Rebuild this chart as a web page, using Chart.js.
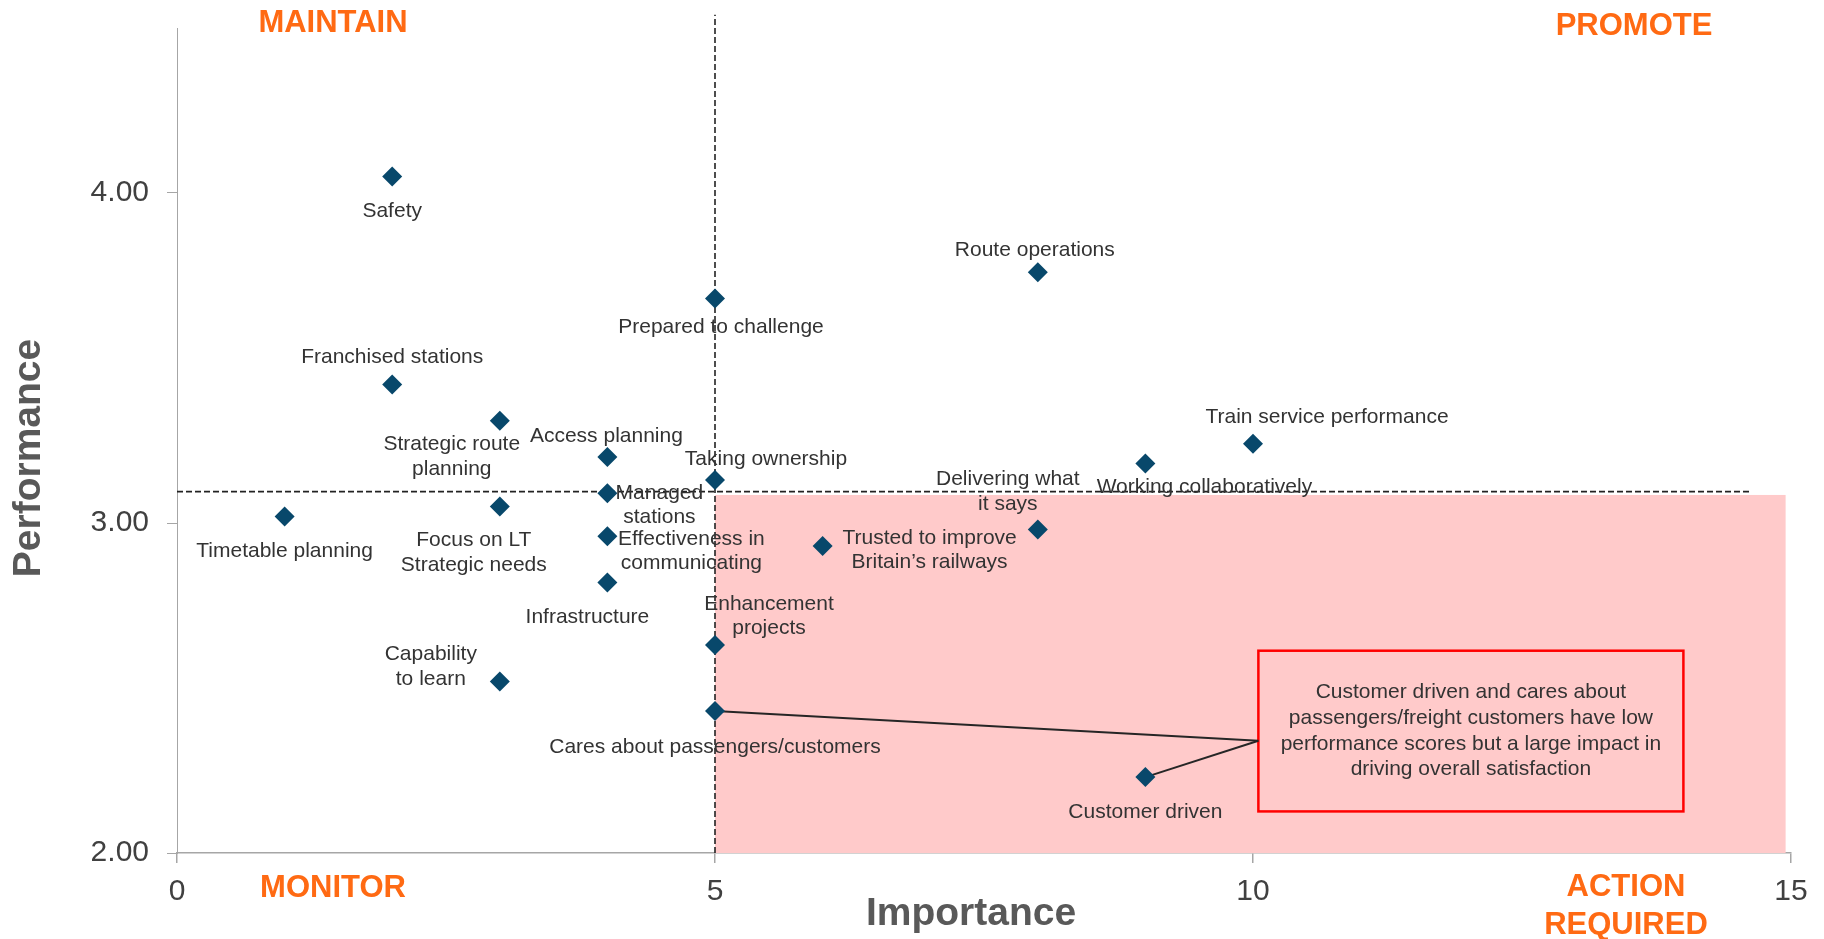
<!DOCTYPE html>
<html>
<head>
<meta charset="utf-8">
<title>Importance vs Performance</title>
<script src="https://cdn.jsdelivr.net/npm/chart.js@4.4.0/dist/chart.umd.min.js"></script>
<style>
  html, body { margin: 0; padding: 0; background: #ffffff; overflow: hidden; }
  #wrap { width: 1824px; height: 939px; position: relative; }
</style>
</head>
<body>
<div id="wrap"><canvas id="matrix" width="1824" height="939"></canvas></div>
<script>
// Attributes
const attributes = [
  "Safety", "Route operations", "Prepared to challenge", "Franchised stations",
  "Strategic route\nplanning", "Access planning", "Taking ownership", "Managed\nstations",
  "Timetable planning", "Focus on LT\nStrategic needs", "Effectiveness in\ncommunicating",
  "Infrastructure", "Enhancement\nprojects", "Capability\nto learn",
  "Cares about passengers/customers", "Customer driven", "Trusted to improve\nBritain\u2019s railways",
  "Delivering what\nit says", "Working collaboratively", "Train service performance"
]
const importance = [2, 8, 5, 2, 3, 4, 5, 4, 1, 3, 4, 4, 5, 3, 5, 9, 6, 8, 9, 10]
const performance = [4.05, 3.76, 3.68, 3.42, 3.31, 3.20, 3.13, 3.09, 3.02, 3.05, 2.96, 2.82, 2.63, 2.52, 2.43, 2.23, 2.93, 2.98, 3.18, 3.24]

// label offsets from the marker (px) for the first text line
const labelDx = [0, -3, 6, 0, -48, -1, 51, 52, 0, -26, 84, -20, 54, -69, 0, 0, 107, -30, 59, 74]
const labelDy = [35, -22, 29, -27, 24, -21, -21, 0, 35, 34, 3, 35, -41, -27, 36, 35, -8, -50, 24, -27]

// axis ticks and titles
const xTicks = [0, 5, 10, 15]
const yTicks = [2, 3, 4]
const xTitle = "Importance"
const yTitle = "Performance"

// thresholds and the action zone
const importanceCut = 5
const performanceCut = 3.095
const hLineEnd = 14.62
const vLineTop = 4.54
const zoneX = [5, 14.95]
const zoneY = [2, 3.085]

// call-out box
const calloutX = [10.05, 14.0]
const calloutY = [2.126, 2.613]
const calloutAnchor = { x: 10.05, y: 2.34 }
const calloutText = [
  "Customer driven and cares about",
  "passengers/freight customers have low",
  "performance scores but a large impact in",
  "driving overall satisfaction"
]
const calloutFrom = ["Cares about passengers/customers", "Customer driven"]

const FONT = "'Liberation Sans', Arial, Helvetica, sans-serif"
const ORANGE = "#FF6A13"
const MARKER = "#08486B"

const points = importance.map((x, i) => ({ x: x, y: performance[i] }))
const connectors = calloutFrom.map((name) => {
  const i = attributes.findIndex((a) => a.replace("\n", " ") === name)
  return [{ x: importance[i], y: performance[i] }, calloutAnchor]
})

// background zone + call-out box
const zonePlugin = {
  id: "zone",
  beforeDatasetsDraw(chart) {
    const { ctx, scales } = chart
    const x = scales.x, y = scales.y
    ctx.save()
    ctx.fillStyle = "#FFCACA"
    const zx0 = x.getPixelForValue(zoneX[0]), zx1 = x.getPixelForValue(zoneX[1])
    const zy0 = y.getPixelForValue(zoneY[1]), zy1 = y.getPixelForValue(zoneY[0])
    ctx.fillRect(zx0, zy0, zx1 - zx0, zy1 - zy0)

    const bx0 = x.getPixelForValue(calloutX[0]), bx1 = x.getPixelForValue(calloutX[1])
    const by0 = y.getPixelForValue(calloutY[1]), by1 = y.getPixelForValue(calloutY[0])
    ctx.strokeStyle = "#FF0000"
    ctx.lineWidth = 2.5
    ctx.strokeRect(bx0, by0, bx1 - bx0, by1 - by0)

    ctx.fillStyle = "#333333"
    ctx.font = "21px " + FONT
    ctx.textAlign = "center"
    ctx.textBaseline = "middle"
    const cx = (bx0 + bx1) / 2
    const cy = (by0 + by1) / 2
    const lh = 25.6
    calloutText.forEach((t, k) => {
      ctx.fillText(t, cx, cy + (k - (calloutText.length - 1) / 2) * lh)
    })
    ctx.restore()
  },
}

// point labels, axis titles, quadrant names
const labelPlugin = {
  id: "labels",
  afterDatasetsDraw(chart) {
    const { ctx, chartArea } = chart
    const meta = chart.getDatasetMeta(0)
    ctx.save()
    ctx.font = "21px " + FONT
    ctx.fillStyle = "#333333"
    ctx.textAlign = "center"
    ctx.textBaseline = "middle"
    meta.data.forEach((pt, i) => {
      const lines = attributes[i].split("\n")
      lines.forEach((line, k) => {
        ctx.fillText(line, pt.x + labelDx[i], pt.y + labelDy[i] + k * 24.4)
      })
    })

    // axis titles
    ctx.font = "bold 39px " + FONT
    ctx.fillStyle = "#595959"
    ctx.fillText(xTitle, 971, 914)
    ctx.save()
    ctx.translate(29, 458)
    ctx.rotate(-Math.PI / 2)
    ctx.fillText(yTitle, 0, 0)
    ctx.restore()

    ctx.font = "bold 31px " + FONT
    ctx.fillStyle = ORANGE
    const l = chartArea.left, r = chartArea.right
    ctx.fillText("MAINTAIN", l + 156, 23)
    ctx.fillText("PROMOTE", r - 157, 26)
    ctx.fillText("MONITOR", l + 156, 888)
    ctx.fillText("ACTION", r - 165, 887)
    ctx.fillText("REQUIRED", r - 165, 925)
    ctx.restore()
  },
}

const ctx = document.getElementById("matrix").getContext("2d")
new Chart(ctx, {
  type: "scatter",
  data: {
    datasets: [
      {
        data: points,
        pointStyle: "rectRot",
        pointRadius: 10,
        pointBorderWidth: 0,
        backgroundColor: MARKER,
        borderColor: MARKER,
        order: 0,
      },
      {
        type: "line",
        data: [{ x: 0, y: performanceCut }, { x: hLineEnd, y: performanceCut }],
        borderColor: "#222222",
        borderWidth: 1.6,
        borderDash: [6, 3],
        pointRadius: 0,
        order: 2,
      },
      {
        type: "line",
        data: [{ x: importanceCut, y: 2 }, { x: importanceCut, y: vLineTop }],
        borderColor: "#222222",
        borderWidth: 1.6,
        borderDash: [6, 3],
        pointRadius: 0,
        clip: false,
        order: 2,
      },
      ...connectors.map((seg) => ({
        type: "line",
        data: seg,
        borderColor: "#262626",
        borderWidth: 2,
        pointRadius: 0,
        order: 1,
      })),
    ],
  },
  options: {
    responsive: false,
    animation: false,
    devicePixelRatio: 1,
    layout: { padding: { top: 28, right: 33, bottom: 0, left: 0 } },
    plugins: {
      legend: { display: false },
      tooltip: { enabled: false },
    },
    scales: {
      x: {
        type: "linear",
        min: 0,
        max: 15,
        afterBuildTicks: (s) => { s.ticks = xTicks.map((v) => ({ value: v })) },
        afterFit: (s) => {
          s.height = 86
          s.paddingLeft = 0
          s.paddingRight = 0
        },
        ticks: {
          font: { family: FONT, size: 30 },
          color: "#404040",
          padding: 11,
          callback: (v) => String(v),
        },
        grid: { drawOnChartArea: false, drawTicks: true, tickLength: 10, color: "#A6A6A6", lineWidth: 1.5 },
        border: { display: true, color: "#A6A6A6", width: 1.5 },
        title: { display: false },
      },
      y: {
        type: "linear",
        min: 2,
        max: 4.5,
        afterBuildTicks: (s) => { s.ticks = yTicks.map((v) => ({ value: v })) },
        afterFit: (s) => {
          s.width = 177
          s.paddingTop = 0
          s.paddingBottom = 0
        },
        ticks: {
          font: { family: FONT, size: 30 },
          color: "#404040",
          padding: 18,
          callback: (v) => Number(v).toFixed(2),
        },
        grid: { drawOnChartArea: false, drawTicks: true, tickLength: 10, color: "#A6A6A6", lineWidth: 1 },
        border: { display: true, color: "#A6A6A6", width: 1 },
        title: { display: false },
      },
    },
  },
  plugins: [zonePlugin, labelPlugin],
})
</script>
</body>
</html>
